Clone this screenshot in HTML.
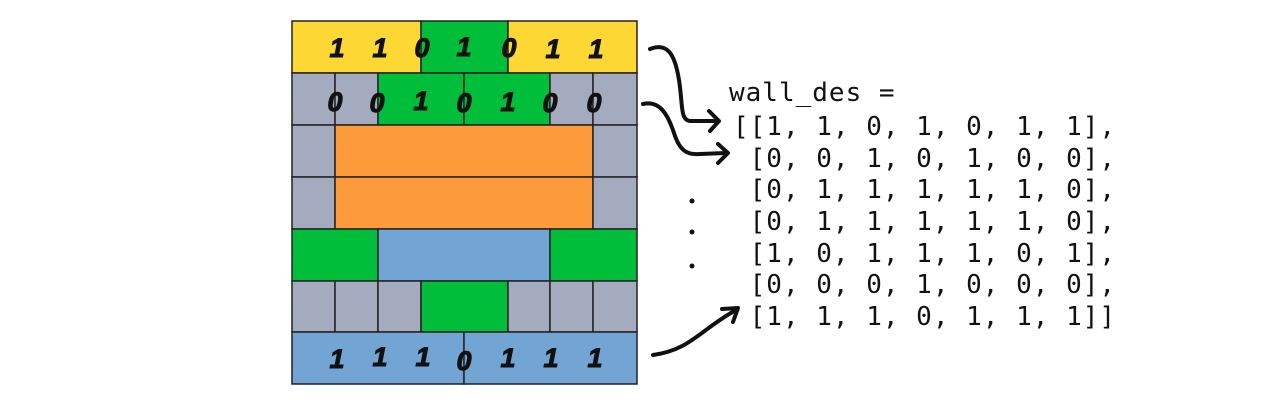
<!DOCTYPE html>
<html><head><meta charset="utf-8"><style>
body{margin:0;background:#fff;width:1283px;height:405px;overflow:hidden}
.m text{white-space:pre}
</style></head><body>
<svg width="1283" height="405" viewBox="0 0 1283 405" xmlns="http://www.w3.org/2000/svg">
<g stroke="#222" stroke-width="1.5">
<rect x="292" y="21" width="129" height="52" fill="#fdd835"/>
<rect x="421" y="21" width="87" height="52" fill="#00be3a"/>
<rect x="508" y="21" width="129" height="52" fill="#fdd835"/>
<rect x="292" y="73" width="43" height="52" fill="#a5abbf"/>
<rect x="335" y="73" width="43" height="52" fill="#a5abbf"/>
<rect x="378" y="73" width="86" height="52" fill="#00be3a"/>
<rect x="464" y="73" width="86" height="52" fill="#00be3a"/>
<rect x="550" y="73" width="43" height="52" fill="#a5abbf"/>
<rect x="593" y="73" width="44" height="52" fill="#a5abbf"/>
<rect x="292" y="125" width="43" height="52" fill="#a5abbf"/>
<rect x="335" y="125" width="258" height="52" fill="#fd9a3a"/>
<rect x="593" y="125" width="44" height="52" fill="#a5abbf"/>
<rect x="292" y="177" width="43" height="52" fill="#a5abbf"/>
<rect x="335" y="177" width="258" height="52" fill="#fd9a3a"/>
<rect x="593" y="177" width="44" height="52" fill="#a5abbf"/>
<rect x="292" y="229" width="86" height="52" fill="#00be3a"/>
<rect x="378" y="229" width="172" height="52" fill="#72a5d3"/>
<rect x="550" y="229" width="87" height="52" fill="#00be3a"/>
<rect x="292" y="281" width="43" height="51" fill="#a5abbf"/>
<rect x="335" y="281" width="43" height="51" fill="#a5abbf"/>
<rect x="378" y="281" width="43" height="51" fill="#a5abbf"/>
<rect x="421" y="281" width="87" height="51" fill="#00be3a"/>
<rect x="508" y="281" width="42" height="51" fill="#a5abbf"/>
<rect x="550" y="281" width="43" height="51" fill="#a5abbf"/>
<rect x="593" y="281" width="44" height="51" fill="#a5abbf"/>
<rect x="292" y="332" width="172" height="52" fill="#72a5d3"/>
<rect x="464" y="332" width="173" height="52" fill="#72a5d3"/>
</g>
<g font-family="Liberation Sans, sans-serif" font-weight="bold" font-style="italic" font-size="27" fill="#111" stroke="#111" stroke-width="1" text-anchor="middle">
<text x="337" y="57">1</text><text x="380" y="57">1</text><text x="422" y="57">0</text><text x="464" y="56">1</text><text x="509" y="57">0</text><text x="553" y="58">1</text><text x="596" y="58">1</text>
<text x="335" y="111">0</text><text x="377" y="112">0</text><text x="421" y="110">1</text><text x="464" y="112">0</text><text x="508" y="111">1</text><text x="550" y="112">0</text><text x="594" y="112">0</text>
<text x="337" y="368">1</text><text x="380" y="366">1</text><text x="423" y="366">1</text><text x="464" y="370">0</text><text x="508" y="367">1</text><text x="551" y="367">1</text><text x="595" y="367">1</text>
</g>
<g fill="none" stroke="#111" stroke-width="4" stroke-linecap="round" stroke-linejoin="round">
<path d="M650,49 C668,42 675,55 679,80 C683,105 680,120 690,121 L718,121"/>
<path d="M709,111 L719,121 L710,131"/>
<path d="M643,104 C660,100 668,115 674,133 C680,152 688,155 700,154 L726,153"/>
<path d="M718,144 L728,153 L718,163"/>
<path d="M653,355 C690,350 700,330 736,310"/>
<path d="M722,309 L738,308 L733,322"/>
</g>
<g fill="#111"><circle cx="692" cy="201" r="2.5"/><circle cx="692" cy="232" r="2.5"/><circle cx="692" cy="266" r="2.5"/></g>
<g class="m" font-family="DejaVu Sans Mono, Liberation Mono, monospace" font-size="26" letter-spacing="1" fill="#111">
<text x="729" y="101">wall_des =</text>
<text x="733" y="135">[[1, 1, 0, 1, 0, 1, 1],</text>
<text x="733" y="167"> [0, 0, 1, 0, 1, 0, 0],</text>
<text x="733" y="198"> [0, 1, 1, 1, 1, 1, 0],</text>
<text x="733" y="230"> [0, 1, 1, 1, 1, 1, 0],</text>
<text x="733" y="262"> [1, 0, 1, 1, 1, 0, 1],</text>
<text x="733" y="293"> [0, 0, 0, 1, 0, 0, 0],</text>
<text x="733" y="325"> [1, 1, 1, 0, 1, 1, 1]]</text>
</g>
</svg>
</body></html>
